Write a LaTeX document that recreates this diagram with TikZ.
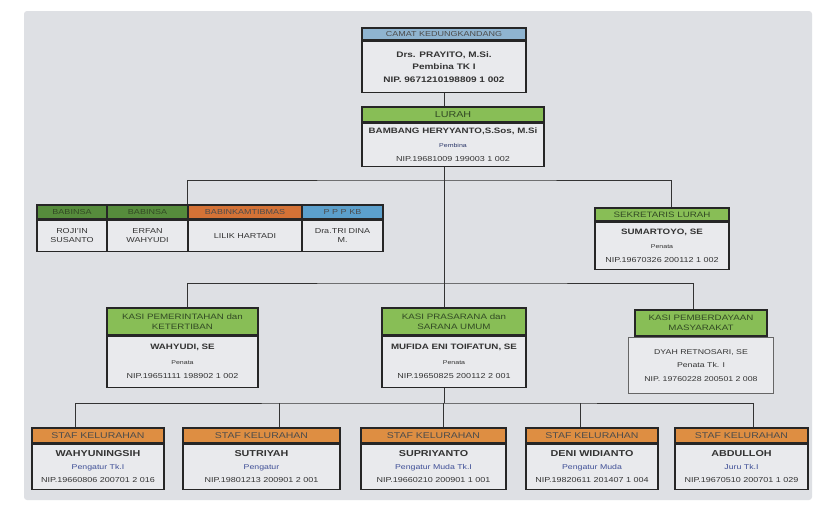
\documentclass[tikz,border=0pt]{standalone}
\usepackage{fontspec}
\setmainfont{Liberation Sans}[FakeStretch=1.25]
\usetikzlibrary{positioning}
\definecolor{paper}{RGB}{222, 224, 228}
\definecolor{boxFill}{RGB}{233, 234, 237}
\definecolor{camatBlue}{RGB}{143, 180, 208}
\definecolor{kbBlue}{RGB}{92, 160, 204}
\definecolor{lurahGreen}{RGB}{136, 190, 86}
\definecolor{babinsaGreen}{RGB}{86, 140, 60}
\definecolor{kamtibOrange}{RGB}{212, 114, 54}
\definecolor{stafOrange}{RGB}{222, 142, 66}
\definecolor{hdrText}{RGB}{50, 74, 36}
\definecolor{rankBlue}{RGB}{62, 78, 150}

\tikzset{
  hdr/.style={draw=black!85, line width=1.2pt, inner sep=0pt, align=center,
    text=hdrText, font=\fontsize{7.8}{9.5}\selectfont},
  bodybox/.style={draw=black!85, line width=1.2pt, fill=boxFill, inner sep=0pt,
    align=center, text=black!80, font=\fontsize{7.2}{14}\selectfont},
  link/.style={draw=black!80, line width=0.9pt},
}
\newcommand{\nmtext}[1]{{\bfseries\fontsize{7.8}{9}\selectfont #1}}
\newcommand{\rktext}[1]{{\fontsize{5.6}{9}\selectfont #1}}

\begin{document}
\begin{tikzpicture}[x=1pt,y=-1pt]
  % paper
  \fill[white] (0,0) rectangle (816,509);
  \fill[paper, rounded corners=3pt] (24,11) rectangle (812,500);
  \useasboundingbox (0,0) rectangle (816,509);

  % camat
  \node[hdr, fill=camatBlue, text=black!70, minimum width=164pt, minimum height=12pt, font=\fontsize{7.2}{8}\selectfont] (camatH) at (444,34) {CAMAT KEDUNGKANDANG};
  \node[bodybox, minimum width=164pt, minimum height=51pt, below=0pt of camatH,
    font=\bfseries\fontsize{8}{12.5}\selectfont] (camat) {Drs. PRAYITO, M.Si.\\Pembina TK I\\NIP. 9671210198809 1 002};

  % lurah
  \node[hdr, fill=lurahGreen, minimum width=182pt, minimum height=15pt, font=\fontsize{8.6}{9}\selectfont] (lurahH) at (453,114.5) {LURAH};
  \node[bodybox, minimum width=182pt, minimum height=43pt, below=0pt of lurahH] (lurah)
    {\nmtext{BAMBANG HERYYANTO,S.Sos, M.Si}\\{\color{rankBlue!70!black}\rktext{Pembina}}\\NIP.19681009 199003 1 002};

  % pembantu kelurahan
  \node[hdr, fill=babinsaGreen, minimum width=70pt, minimum height=14pt, font=\fontsize{7.2}{8}\selectfont] (babinsaAH) at (72,212) {BABINSA};
  \node[hdr, fill=babinsaGreen, minimum width=81pt, minimum height=14pt, font=\fontsize{7.2}{8}\selectfont] (babinsaBH) at (147.5,212) {BABINSA};
  \node[hdr, fill=kamtibOrange, text=black!70, minimum width=114pt, minimum height=14pt, font=\fontsize{7.2}{8}\selectfont] (kamtibH) at (245,212) {BABINKAMTIBMAS};
  \node[hdr, fill=kbBlue, text=black!70, minimum width=81pt, minimum height=14pt, font=\fontsize{7.2}{8}\selectfont] (kbH) at (342.5,212) {P P P KB};
  \node[bodybox, minimum width=70pt, minimum height=31pt, below=0pt of babinsaAH, font=\fontsize{7.2}{9}\selectfont] (babinsaA) {ROJI'IN\\SUSANTO};
  \node[bodybox, minimum width=81pt, minimum height=31pt, below=0pt of babinsaBH, font=\fontsize{7.2}{9}\selectfont] (babinsaB) {ERFAN\\WAHYUDI};
  \node[bodybox, minimum width=114pt, minimum height=31pt, below=0pt of kamtibH, font=\fontsize{7.2}{9}\selectfont] (kamtib) {LILIK HARTADI};
  \node[bodybox, minimum width=81pt, minimum height=31pt, below=0pt of kbH, font=\fontsize{7.2}{9}\selectfont] (kb) {Dra.TRI DINA\\M.};

  % sekretaris
  \node[hdr, fill=lurahGreen, minimum width=134pt, minimum height=13pt] (sekH) at (662,214.5) {SEKRETARIS LURAH};
  \node[bodybox, minimum width=134pt, minimum height=47pt, below=0pt of sekH] (sek)
    {\nmtext{SUMARTOYO, SE}\\\rktext{Penata}\\NIP.19670326 200112 1 002};

  % kasi
  \node[hdr, fill=lurahGreen, minimum width=151pt, minimum height=27pt] (kasiAH) at (182.5,321.5) {KASI PEMERINTAHAN dan\\KETERTIBAN};
  \node[bodybox, minimum width=151pt, minimum height=51pt, below=0pt of kasiAH, font=\fontsize{7.2}{14.5}\selectfont] (kasiA)
    {\nmtext{WAHYUDI, SE}\\\rktext{Penata}\\NIP.19651111 198902 1 002};
  \node[hdr, fill=lurahGreen, minimum width=144pt, minimum height=27pt] (kasiBH) at (454,321.5) {KASI PRASARANA dan\\SARANA UMUM};
  \node[bodybox, minimum width=144pt, minimum height=51pt, below=0pt of kasiBH, font=\fontsize{7.2}{14.5}\selectfont] (kasiB)
    {\nmtext{MUFIDA ENI TOIFATUN, SE}\\\rktext{Penata}\\NIP.19650825 200112 2 001};
  \node[hdr, fill=lurahGreen, line width=1.6pt, minimum width=132pt, minimum height=26pt] (kasiCH) at (701,323) {KASI PEMBERDAYAAN\\MASYARAKAT};
  \node[bodybox, draw=black!60, line width=0.6pt, minimum width=145pt, minimum height=56pt, below=0pt of kasiCH, font=\fontsize{7}{13.5}\selectfont] (kasiC)
    {DYAH RETNOSARI, SE\\Penata Tk. I\\NIP. 19760228 200501 2 008};

  % staf kelurahan
  \foreach \i/\x/\w/\nm/\rk/\nip in {
      1/98/132/WAHYUNINGSIH/Pengatur Tk.I/NIP.19660806 200701 2 016,
      2/261.5/157/SUTRIYAH/Pengatur/NIP.19801213 200901 2 001,
      3/433.5/145/SUPRIYANTO/Pengatur Muda Tk.I/NIP.19660210 200901 1 001,
      4/592/132/DENI WIDIANTO/Pengatur Muda/NIP.19820611 201407 1 004,
      5/741.5/133/ABDULLOH/Juru Tk.I/NIP.19670510 200701 1 029} {
    \node[hdr, fill=stafOrange, text=black!70, minimum width=\w pt, minimum height=15pt, font=\fontsize{8.4}{9}\selectfont] (stafH\i) at (\x,435.5) {STAF KELURAHAN};
    \node[bodybox, minimum width=\w pt, minimum height=45pt, below=0pt of stafH\i, font=\fontsize{7.2}{12.8}\selectfont] (staf\i)
      {{\bfseries\fontsize{8.6}{9}\selectfont \nm}\\{\color{rankBlue}\fontsize{7}{9}\selectfont \rk}\\\nip};
  }

  % connectors
  \coordinate (busA) at (444,180);
  \coordinate (busB) at (444,283);
  \coordinate (busC) at (444,403);
  \draw[link] (camat.south) -- (lurahH.north -| camat.south);
  \draw[link] (lurah.south -| camat.south) -- (busB);
  \draw[link] (kamtibH.north west) |- (busA) -| ([xshift=9pt]sekH.north);
  \draw[link] ([xshift=5pt]kasiAH.north) |- (busB) -| ([xshift=-8pt]kasiCH.north);
  \draw[link] (busB) -- (kasiBH.north -| busB);
  \draw[link] (kasiB.south -| busC) -- (busC);
  \draw[link] ([xshift=-23pt]stafH1.north) |- (busC) -| ([xshift=12pt]stafH5.north);
  \draw[link] ([xshift=18pt]stafH2.north) -- ([xshift=18pt]stafH2.north |- busC);
  \draw[link] ([xshift=10pt]stafH3.north) -- ([xshift=10pt]stafH3.north |- busC);
  \draw[link] ([xshift=-12pt]stafH4.north) -- ([xshift=-12pt]stafH4.north |- busC);
\end{tikzpicture}
\end{document}
